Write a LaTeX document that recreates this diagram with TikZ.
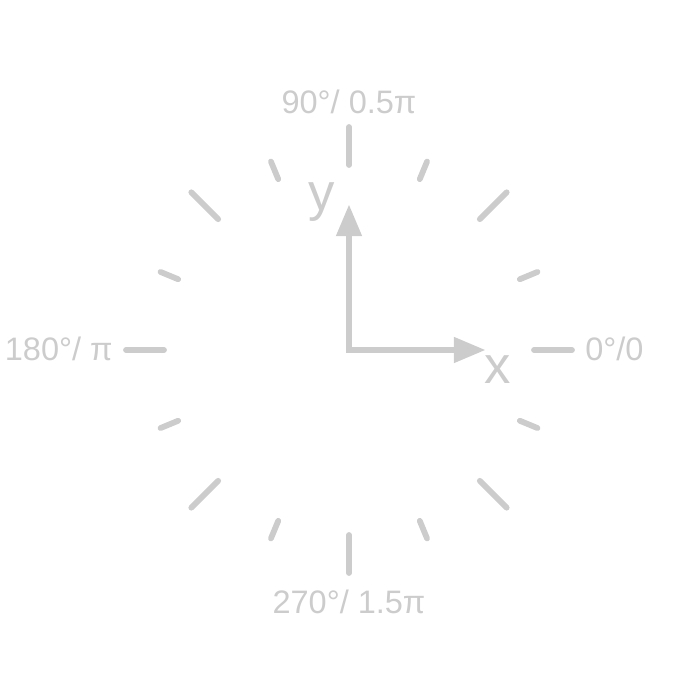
\documentclass[tikz,border=0pt]{standalone}
\usepackage{fontspec}
\setmainfont{Liberation Sans}
\usepackage{tikz}
\usetikzlibrary{arrows}
\definecolor{dialgray}{HTML}{CCCCCC}
\tikzstyle{tick} = [draw=dialgray, line width=3.3pt, line cap=round]
\tikzstyle{axis} = [draw=dialgray, line width=3.2pt, triangle 45-triangle 45]
\tikzstyle{deglabel} = [text=dialgray, font=\fontsize{18.5}{22}\selectfont, inner sep=0pt]
\tikzstyle{axlabel} = [text=dialgray, font=\fontsize{30}{36}\selectfont, inner sep=0pt]

\begin{document}
\begin{tikzpicture}[line join=miter,x=1.0cm,y=1.0cm]
		\clip(-6.98,-7) rectangle (7.02,7);
		% ticks
		\foreach \a in {0,45,...,315}
			\draw [tick] (\a:3.7) -- (\a:4.46);
		\foreach \a in {22.5,67.5,...,337.5}
			\draw [tick] (\a:3.7) -- (\a:4.08);
		% axes
		\coordinate (o) at (0,0);
		\coordinate (xtip) at (2.72,0);
		\coordinate (ytip) at (0,2.9);
		\draw [axis] (ytip) -- (o) -- (xtip);
		\node[axlabel, anchor=base] (xlab) at (2.98,-0.66) {x};
		\node[axlabel, anchor=base] (ylab) at (-0.54,2.78) {y};
		% angle labels
		\node[deglabel, anchor=base west] (east) at (4.72,-0.22) {0°/0};
		\node[deglabel, anchor=base] (north) at (0,4.72) {90°/ 0.5π};
		\node[deglabel, anchor=base east] (west) at (-4.72,-0.22) {180°/ π};
		\node[deglabel, anchor=north] (south) at (0,-4.8) {270°/ 1.5π};
	\end{tikzpicture}
\end{document}
